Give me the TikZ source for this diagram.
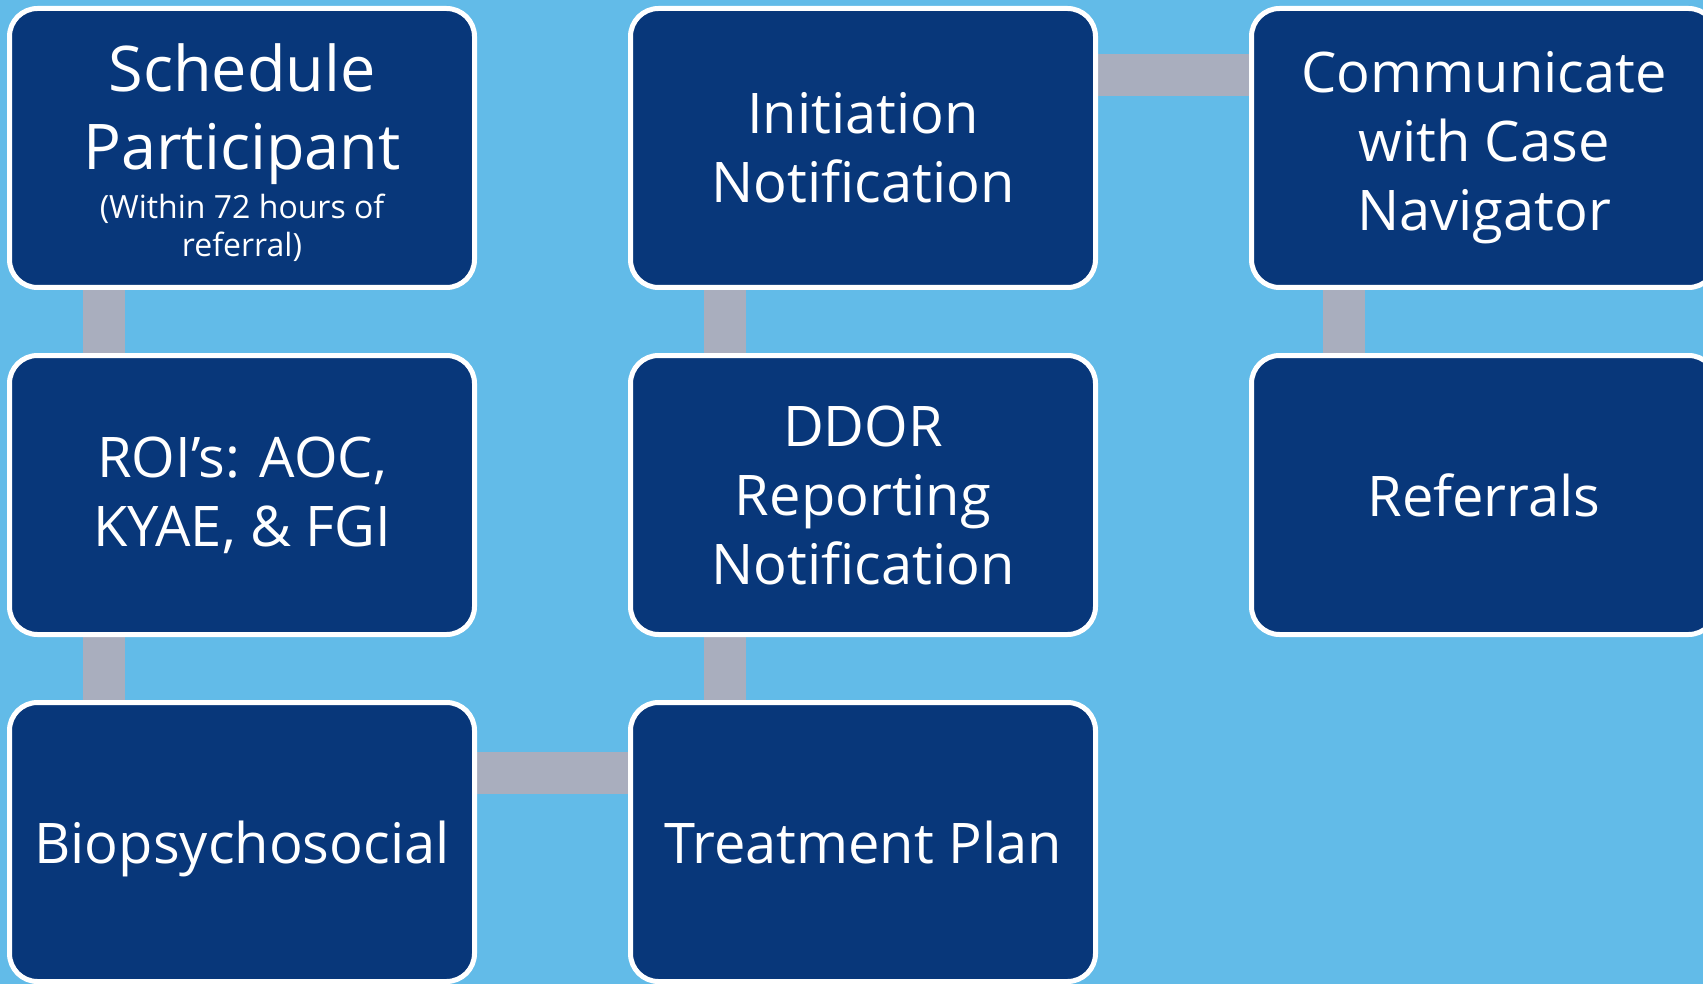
\documentclass[tikz,border=0pt]{standalone}
\usepackage{fontspec}
\setmainfont{Open Sans}
\usetikzlibrary{backgrounds}
\definecolor{bgblue}{HTML}{62BBE8}
\definecolor{navy}{HTML}{08377A}
\definecolor{conngray}{HTML}{A9AEBE}
\tikzset{
  box/.style={draw=white, line width=5pt, fill=navy, rounded corners=28pt,
    minimum width=465pt, minimum height=279pt, inner sep=0pt, outer sep=0pt,
    text=white, align=center, font=\fontsize{56}{69}\selectfont},
  conn/.style={draw=conngray, line width=42pt},
}
\begin{document}
\begin{tikzpicture}[x=1pt,y=-1pt]
\useasboundingbox (0,0) rectangle (1703,984);
\begin{pgfonlayer}{background}
\fill[bgblue] (0,0) rectangle (1703,984);
\end{pgfonlayer}
\clip (0,0) rectangle (1703,984);
\node[box, font=\fontsize{63}{78}\selectfont] (sched) at (242,148)
  {\rule{0pt}{57pt}Schedule\\Participant\\[-29pt]{\fontsize{32}{40}\selectfont (Within 72 hours of}\\[-40pt]{\fontsize{32}{40}\selectfont referral)}};
\node[box] (roi) at (242,495) {ROI’s: AOC,\\KYAE, \& FGI};
\node[box, text depth=0pt] (bio) at (242,842) {Biopsychosocial};
\node[box] (init) at (863,148) {Initiation\\Notification};
\node[box] (ddor) at (863,495) {DDOR\\Reporting\\Notification};
\node[box] (treat) at (863,842) {Treatment Plan};
\node[box] (comm) at (1484,148) {Communicate\\with Case\\Navigator};
\node[box] (refs) at (1484,495) {Referrals};
\begin{pgfonlayer}{background}
\draw[conn] ([xshift=-138pt]sched.south) -- ([xshift=-138pt]roi.north);
\draw[conn] ([xshift=-138pt]roi.south) -- ([xshift=-138pt]bio.north);
\draw[conn] ([yshift=69pt]bio.east) -- ([yshift=69pt]treat.west);
\draw[conn] ([xshift=-138pt]treat.north) -- ([xshift=-138pt]ddor.south);
\draw[conn] ([xshift=-138pt]ddor.north) -- ([xshift=-138pt]init.south);
\draw[conn] ([yshift=73pt]init.east) -- ([yshift=73pt]comm.west);
\draw[conn] ([xshift=-140pt]comm.south) -- ([xshift=-140pt]refs.north);
\end{pgfonlayer}
\end{tikzpicture}
\end{document}
